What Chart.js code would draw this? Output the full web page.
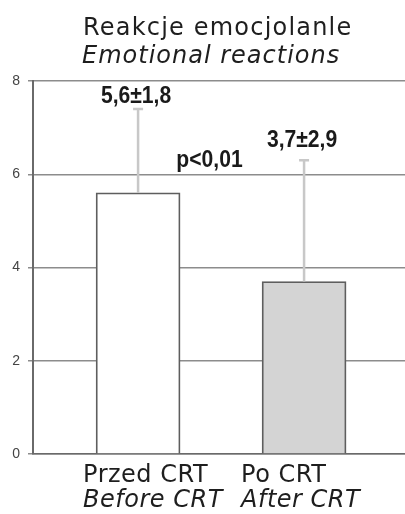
<!DOCTYPE html>
<html>
<head>
<meta charset="utf-8">
<script src="https://cdn.jsdelivr.net/npm/chart.js@4"></script>
<style>
  body { margin: 0; background: #fff; }
  canvas { display: block; }
</style>
</head>
<body>
<canvas id="chart" width="405" height="514"></canvas>
<script>
// values
const categories = ['Przed CRT', 'Po CRT'];
const categoriesEn = ['Before CRT', 'After CRT'];
const means = [5.6, 3.7];
const errorTops = [7.4, 6.3];
const meanLabels = ['5,6\u00b11,8', '3,7\u00b12,9'];
const pLabel = 'p<0,01';
const titlePl = 'Reakcje emocjolanle';
const titleEn = 'Emotional reactions';

const errorBars = {
    id: 'errorBars',
    afterDatasetsDraw(chart) {
        const ctx = chart.ctx;
        const xs = chart.scales.x, ys = chart.scales.y;
        ctx.save();
        ctx.strokeStyle = '#c8c8c8';
        ctx.lineWidth = 2.5;
        means.forEach((m, i) => {
            const x = xs.getPixelForValue(i);
            const y1 = ys.getPixelForValue(m);
            const y2 = ys.getPixelForValue(errorTops[i]);
            ctx.beginPath();
            ctx.moveTo(x, y1);
            ctx.lineTo(x, y2);
            ctx.moveTo(x - 5, y2);
            ctx.lineTo(x + 5, y2);
            ctx.stroke();
        });
        ctx.restore();
    }
};

// narrow bold text: squeeze Liberation Sans horizontally
function narrowText(ctx, t, x, y) {
    ctx.save();
    ctx.translate(x, y);
    ctx.scale(0.88, 1);
    ctx.fillText(t, 0, 0);
    ctx.restore();
}

const texts = {
    id: 'texts',
    afterDraw(chart) {
        const ctx = chart.ctx;
        const xs = chart.scales.x, ys = chart.scales.y;
        ctx.save();
        ctx.fillStyle = '#1e1e1e';
        ctx.textAlign = 'left';
        ctx.textBaseline = 'alphabetic';

        // title
        ctx.letterSpacing = '1.2px';
        ctx.font = '24px "DejaVu Sans"';
        ctx.fillText(titlePl, 83, 35);
        ctx.letterSpacing = '1px';
        ctx.font = 'italic 24px "DejaVu Sans"';
        ctx.fillText(titleEn, 82, 63);

        // category labels (left aligned under bars)
        ctx.letterSpacing = '0.5px';
        const shift = [-55, -63];
        categories.forEach((c, i) => {
            const x = xs.getPixelForValue(i) + shift[i];
            ctx.font = '24px "DejaVu Sans"';
            ctx.fillText(c, x, 482);
            ctx.font = 'italic 24px "DejaVu Sans"';
            ctx.fillText(categoriesEn[i], x, 507);
        });

        // mean ± sd labels and p value
        ctx.letterSpacing = '0px';
        ctx.textAlign = 'center';
        ctx.fillStyle = '#1a1a1a';
        ctx.font = 'bold 24px "Liberation Sans"';
        const lift = [6, 13];
        meanLabels.forEach((t, i) => {
            narrowText(ctx, t, xs.getPixelForValue(i) - 2, ys.getPixelForValue(errorTops[i]) - lift[i]);
        });
        narrowText(ctx, pLabel, xs.getPixelForValue(0.43), ys.getPixelForValue(6) - 7);
        ctx.restore();
    }
};

new Chart(document.getElementById('chart'), {
    type: 'bar',
    data: {
        datasets: [{
            data: means.map((v, i) => ({ x: i, y: v })),
            backgroundColor: ['#ffffff', '#d4d4d4'],
            borderColor: '#5e5e5e',
            borderWidth: 1.8,
            barThickness: 84
        }]
    },
    options: {
        responsive: false,
        animation: false,
        layout: { padding: { top: 81, right: 0, left: 0, bottom: 0 } },
        plugins: { legend: { display: false }, tooltip: { enabled: false } },
        scales: {
            x: {
                type: 'linear',
                offset: false,
                min: -0.633,
                max: 1.608,
                ticks: { display: false },
                grid: { display: false },
                border: { display: true, color: '#6a6a6a', width: 1.5 },
                afterFit: s => { s.height = 60; }
            },
            y: {
                min: 0,
                max: 8,
                ticks: {
                    stepSize: 2,
                    color: '#444',
                    font: { family: 'Liberation Sans', size: 14 },
                    padding: 8
                },
                grid: { color: '#8c8c8c', lineWidth: 1.5, tickLength: 5 },
                border: { color: '#6a6a6a', width: 2 },
                afterFit: s => { s.width = 33; }
            }
        }
    },
    plugins: [errorBars, texts]
});
</script>
</body>
</html>
